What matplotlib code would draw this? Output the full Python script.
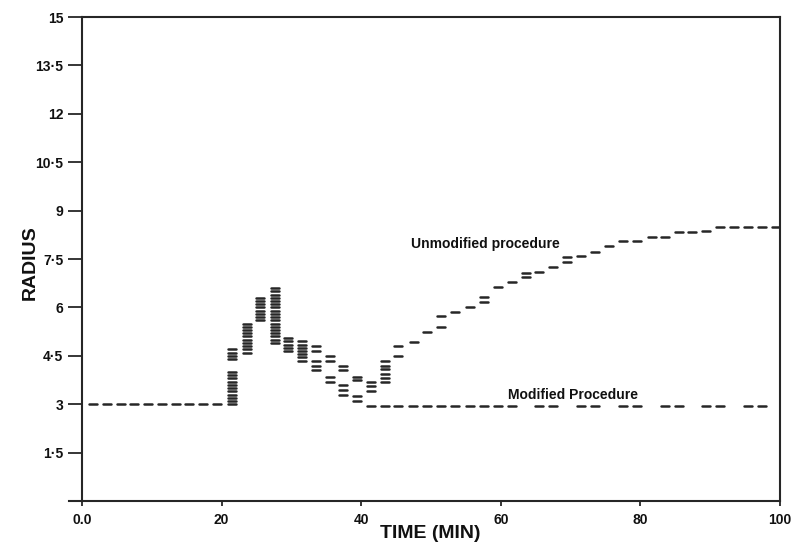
import matplotlib
matplotlib.use("Agg")
import matplotlib.pyplot as plt
from matplotlib.markers import MarkerStyle
from matplotlib.lines import Line2D

# Baseline readings before the rise (time in min, radius)
baseline_time = [1.6, 3.6, 5.6, 7.5, 9.5, 11.5, 13.5, 15.4, 17.4, 19.3]
baseline_radius = [3.0, 3.0, 3.0, 3.0, 3.0, 3.0, 3.0, 3.0, 3.0, 3.0]

# Early phase: several readings recorded at each time point
early_time = [21.5, 23.6, 25.5, 27.6, 29.5, 31.5, 33.5]
early_radius = [
    [3.0, 3.1, 3.2, 3.3, 3.4, 3.5, 3.6, 3.7, 3.8, 3.9, 4.0, 4.4, 4.5, 4.6, 4.7],
    [4.6, 4.7, 4.8, 4.9, 5.0, 5.1, 5.2, 5.3, 5.4, 5.5],
    [5.6, 5.7, 5.8, 5.9, 6.0, 6.1, 6.2, 6.3],
    [4.9, 5.0, 5.1, 5.2, 5.3, 5.4, 5.5, 5.6, 5.7, 5.8, 5.9, 6.0, 6.1, 6.2, 6.3, 6.4, 6.5, 6.6],
    [4.65, 4.75, 4.85, 4.95, 5.05],
    [4.35, 4.45, 4.55, 4.65, 4.75, 4.85, 4.95],
    [4.05, 4.2, 4.35, 4.65, 4.8],
]

# Unmodified procedure
unmod_time = [35.5, 37.4, 39.4, 41.4, 43.4, 45.3, 47.5, 49.5, 51.5, 53.5, 55.6,
              57.6, 59.6, 61.6, 63.6, 65.5, 67.5, 69.5, 71.5, 73.5, 75.5, 77.5,
              79.5, 81.6, 83.5, 85.5, 87.4, 89.4, 91.4, 93.4, 95.4, 97.4, 99.4]
unmod_radius = [
    [4.35, 4.5], [4.05, 4.2], [3.75, 3.85], [3.4, 3.55, 3.7],
    [3.7, 3.8, 3.95, 4.1, 4.2, 4.35], [4.5, 4.8], [4.93], [5.23], [5.39, 5.72],
    [5.85], [6.01], [6.17, 6.33], [6.64], [6.78], [6.93, 7.08], [7.1], [7.26],
    [7.42, 7.57], [7.58], [7.73], [7.89], [8.05], [8.06], [8.19], [8.19],
    [8.35], [8.35], [8.36], [8.5], [8.5], [8.5], [8.5], [8.5],
]

# Modified procedure
mod_time = [35.5, 37.4, 39.4, 41.4, 43.4, 45.3, 47.4, 49.4, 51.4, 53.4, 55.6,
            57.6, 59.6, 61.6, 65.5, 67.5, 71.5, 73.5, 77.5, 79.5, 83.5, 85.5,
            89.4, 91.4, 95.4, 97.4]
mod_radius = [
    [3.7, 3.85], [3.3, 3.45, 3.6], [3.1, 3.25], [2.96], [2.96], [2.96],
    [2.95], [2.95], [2.95], [2.95], [2.95], [2.95], [2.95], [2.95],
    [2.95], [2.95], [2.95], [2.95], [2.95], [2.95], [2.95], [2.95],
    [2.95], [2.95], [2.95], [2.95],
]

x_ticks = [0, 20, 40, 60, 80, 100]
x_tick_labels = ["0.0", "20", "40", "60", "80", "100"]
y_ticks = [1.5, 3, 4.5, 6, 7.5, 9, 10.5, 12, 13.5, 15]
y_tick_labels = ["1·5", "3", "4·5", "6", "7·5", "9", "10·5", "12", "13·5", "15"]

FONT = ["Liberation Sans", "DejaVu Sans"]
INK = "#262626"
TEXT = "#111111"


def flatten(times, groups):
    xs, ys = [], []
    for t, vals in zip(times, groups):
        for v in vals:
            xs.append(t)
            ys.append(v)
    return xs, ys


fig = plt.figure(figsize=(8.08, 5.44), dpi=100, facecolor="white")
ax = fig.add_axes([0.1015, 0.079, 0.8638, 0.8897])
ax.set_xlim(0, 100)
ax.set_ylim(0, 15)

dash = MarkerStyle("_", capstyle="round")
style = dict(ls="none", marker=dash, ms=6.0, mew=1.8, color=INK)

ax.plot(baseline_time, baseline_radius, **style)
ex, ey = flatten(early_time, early_radius)
ax.plot(ex, ey, **style)
ux, uy = flatten(unmod_time, unmod_radius)
ax.plot(ux, uy, **style)
mx, my = flatten(mod_time, mod_radius)
ax.plot(mx, my, **style)

for side in ["left", "right", "top", "bottom"]:
    ax.spines[side].set_color(INK)
    ax.spines[side].set_linewidth(1.5)

# bottom rule runs a little past the vertical axis
ax.add_line(Line2D([-1.8, 0], [0, 0], transform=ax.transData, color=INK,
                   lw=1.5, clip_on=False))

ax.set_xticks(x_ticks)
ax.set_xticklabels(x_tick_labels)
ax.set_yticks(y_ticks)
ax.set_yticklabels(y_tick_labels)
ax.tick_params(axis="y", direction="out", length=10, width=1.3, pad=3.5,
               color=INK)
ax.tick_params(axis="x", direction="out", length=3.5, width=1.3, pad=5,
               color=INK)
for lab in ax.get_xticklabels() + ax.get_yticklabels():
    lab.set_fontfamily(FONT)
    lab.set_fontweight("bold")
    lab.set_fontsize(10)
    lab.set_color(TEXT)

fig.text(30 / 808, 1 - 263 / 544, "RADIUS", rotation=90, ha="center",
         va="center", fontsize=14, fontweight="bold", family=FONT,
         color=TEXT)
fig.text(430 / 808, 1 - 533 / 544, "TIME (MIN)", ha="center", va="center",
         fontsize=14, fontweight="bold", family=FONT, color=TEXT)

ax.text(47.2, 7.97, "Unmodified procedure", ha="left", va="center",
        fontsize=10, fontweight="bold", family=FONT, color=TEXT)
ax.text(61.0, 3.3, "Modified Procedure", ha="left", va="center",
        fontsize=10, fontweight="bold", family=FONT, color=TEXT)

fig.savefig("out.png", dpi=100, facecolor="white")
